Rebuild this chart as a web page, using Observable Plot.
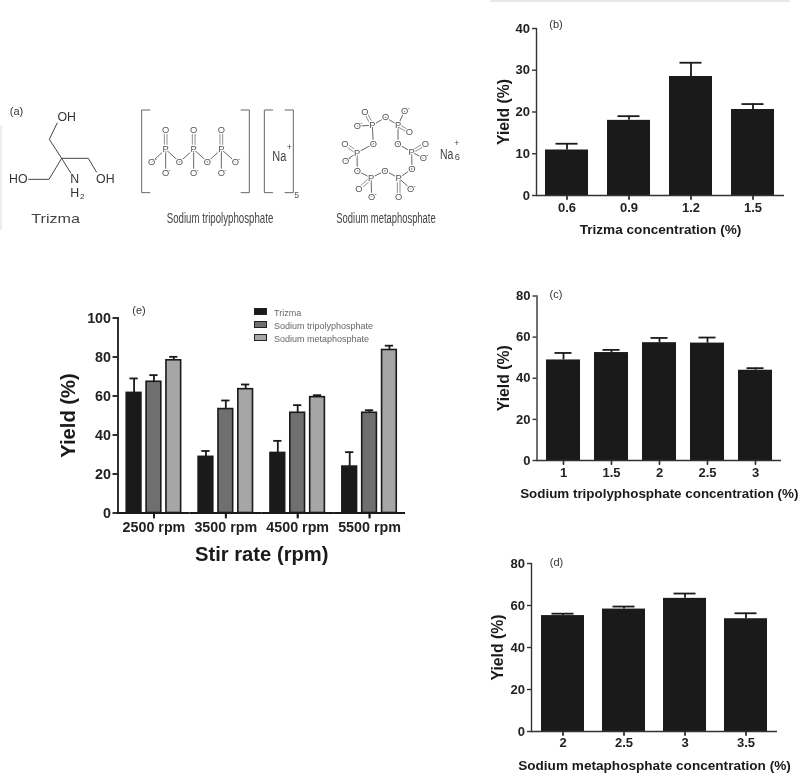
<!DOCTYPE html>
<html>
<head>
<meta charset="utf-8">
<script src="https://cdn.jsdelivr.net/npm/d3@7"></script>
<script src="https://cdn.jsdelivr.net/npm/@observablehq/plot@0.6"></script>
<style>
html,body{margin:0;padding:0;background:#fff;}
#page{position:relative;width:800px;height:777px;overflow:hidden;font-family:"Liberation Sans",Arial,sans-serif;background:#fff;filter:blur(0.35px);}
.panel{position:absolute;}
.panel svg{display:block;background:transparent;font-family:"Liberation Sans",Arial,sans-serif;overflow:visible;}
.tag{position:absolute;font-size:11px;color:#333;line-height:12px;transform:translate(-50%,-50%);}
.legend{position:absolute;left:254px;top:307px;font-size:9px;color:#666;}
.legend div{position:absolute;left:0;white-space:nowrap;height:12px;line-height:12px;}
.legend i{display:inline-block;width:11px;height:5px;border:1px solid #222;margin-right:7px;vertical-align:1px;}
.panel g[aria-label="y-axis tick label"],.panel g[aria-label="x-axis tick label"],.panel g[aria-label="fx-axis tick label"]{font-weight:bold;fill:#222;}
.panel g[aria-label="y-axis label"],.panel g[aria-label="x-axis label"],.panel g[aria-label="fx-axis label"]{font-weight:bold;fill:#1a1a1a;}
.small g[aria-label="y-axis tick label"],.small g[aria-label="x-axis tick label"]{font-size:13px;}
.small g[aria-label="y-axis label"]{font-size:15.8px;}
.small g[aria-label="x-axis label"]{font-size:13.6px;}
#c g[aria-label="x-axis label"]{font-size:13.4px;}
#e g[aria-label="y-axis tick label"],#e g[aria-label="fx-axis tick label"]{font-size:14.3px;}
#e g[aria-label="y-axis label"],#e g[aria-label="fx-axis label"]{font-size:20.2px;}
</style>
</head>
<body>
<div id="page"></div>
<script>
// Panel (b)
const trizmaConc = ["0.6","0.9","1.2","1.5"];
const trizmaYield = [10.9,18.0,28.5,20.6];
const trizmaTop = [12.4,19.0,31.8,21.9];
// Panel (c)
const tripolyConc = ["1","1.5","2","2.5","3"];
const tripolyYield = [48.9,52.5,57.3,57.1,43.9];
const tripolyTop = [52.3,53.8,59.6,59.8,44.9];
// Panel (d)
const metaConc = ["2","2.5","3","3.5"];
const metaYield = [55.2,58.3,63.4,53.7];
const metaTop = [56.1,59.5,65.7,56.3];
// Panel (e)
const stirRates = ["2500 rpm","3500 rpm","4500 rpm","5500 rpm"];
const agents = ["Trizma","Sodium tripolyphosphate","Sodium metaphosphate"];
const agentColors = ["#1a1a1a","#6f6f6f","#a6a6a6"];
const stirTrizma = [61.6,28.8,30.8,23.8];
const stirTrizmaTop = [69,31.8,37,31.2];
const stirTripoly = [67.3,53.3,51.4,51.4];
const stirTripolyTop = [70.7,57.7,55.3,52.7];
const stirMeta = [78.3,63.5,59.4,83.6];
const stirMetaTop = [80.1,65.9,60.4,85.8];

const page = document.getElementById("page");
const ink = "#1a1a1a";

function singlePanel(id, box, cats, vals, tops, xLabel, yMax, yTicks, capInset, xOff, yOff, tickPad){
  const data = cats.map((c,i)=>({c, v:vals[i], t:tops[i]}));
  const frameH = box.height - box.mt - box.mb;
  const div = document.createElement("div");
  div.className = "panel small"; div.id = id;
  div.style.left = box.left+"px"; div.style.top = box.top+"px";
  div.append(Plot.plot({
    width: box.width, height: box.height,
    marginLeft: box.ml, marginRight: box.mr, marginTop: box.mt, marginBottom: box.mb,
    x: {type:"band", domain: cats, paddingInner:0.3, paddingOuter:0.15},
    y: {domain:[0,yMax]},
    marks: [
      Plot.barY(data,{x:"c",y:"v",fill:ink}),
      Plot.ruleX(data,{x:"c",y1:"v",y2:"t",stroke:ink,strokeWidth:1.8}),
      Plot.tickY(data,{x:"c",y:"t",stroke:ink,strokeWidth:1.8,insetLeft:capInset,insetRight:capInset}),
      Plot.frame({anchor:"left",stroke:"#333",strokeWidth:1.4}),
      Plot.ruleY([0],{stroke:"#333",strokeWidth:1.4}),
      Plot.tickX(data,{x:"c",stroke:"#333",strokeWidth:1.4,insetTop:frameH,insetBottom:-4}),
      Plot.axisY({ticks:yTicks,tickSize:4,tickPadding:2.5,label:"Yield (%)",labelAnchor:"center",labelArrow:"none",labelOffset:yOff,stroke:"#333",strokeWidth:1.4}),
      Plot.axisX({tickSize:5,tickPadding:tickPad,label:xLabel,labelAnchor:"center",labelArrow:"none",labelOffset:xOff,stroke:"#333",strokeWidth:1.4})
    ]
  }));
  page.append(div);
}

singlePanel("b",{left:490,top:0,width:310,height:245,ml:46,mr:16,mt:28,mb:50},
  trizmaConc,trizmaYield,trizmaTop,"Trizma concentration (%)",40,[0,10,20,30,40],10.5,38,39,2);
singlePanel("c",{left:490,top:280,width:310,height:225,ml:46.5,mr:19,mt:15.5,mb:45},
  tripolyConc,tripolyYield,tripolyTop,"Sodium tripolyphosphate concentration (%)",80,[0,20,40,60,80],8.5,37,39,2.5);
singlePanel("d",{left:480,top:550,width:320,height:227,ml:51,mr:23,mt:13,mb:46},
  metaConc,metaYield,metaTop,"Sodium metaphosphate concentration (%)",80,[0,20,40,60,80],10.5,38,40,1.5);

// Panel (e): grouped bars
const stirRows = [];
stirRates.forEach((r,i)=>{
  stirRows.push({r,a:agents[0],v:stirTrizma[i],t:stirTrizmaTop[i]});
  stirRows.push({r,a:agents[1],v:stirTripoly[i],t:stirTripolyTop[i]});
  stirRows.push({r,a:agents[2],v:stirMeta[i],t:stirMetaTop[i]});
});
const eDiv = document.createElement("div");
eDiv.className = "panel"; eDiv.id = "e";
eDiv.style.left = "40px"; eDiv.style.top = "300px";
eDiv.append(Plot.plot({
  width: 375, height: 275,
  marginLeft: 77.5, marginRight: 10, marginTop: 17.5, marginBottom: 62.5,
  fx: {domain: stirRates, padding:0, round:false, label:"Stir rate (rpm)"},
  x: {domain: agents, paddingInner:0.26, paddingOuter:0.44, round:false, axis:null},
  y: {domain:[0,100]},
  color: {domain: agents, range: agentColors},
  marks: [
    Plot.barY(stirRows,{fx:"r",x:"a",y:"v",fill:"a",stroke:ink,strokeWidth:1.6}),
    Plot.ruleX(stirRows,{fx:"r",x:"a",y1:"v",y2:"t",stroke:ink,strokeWidth:1.8}),
    Plot.tickY(stirRows,{fx:"r",x:"a",y:"t",stroke:ink,strokeWidth:1.8,insetLeft:3.2,insetRight:3.2}),
    Plot.frame({anchor:"left",facet:"super",stroke:ink,strokeWidth:1.8}),
    Plot.ruleY([0],{stroke:ink,strokeWidth:1.8}),
    Plot.tickX(stirRows.filter(d=>d.a===agents[1]),{fx:"r",x:"a",stroke:ink,strokeWidth:1.8,insetTop:195,insetBottom:-5}),
    Plot.axisY({ticks:[0,20,40,60,80,100],tickSize:5,tickPadding:2,label:"Yield (%)",labelAnchor:"center",labelArrow:"none",labelOffset:57,stroke:ink,strokeWidth:1.8}),
    Plot.axisFx({anchor:"bottom",tickSize:6,tickPadding:3,label:"Stir rate (rpm)",labelAnchor:"center",labelArrow:"none",labelOffset:48,stroke:ink,strokeWidth:1.8})
  ]
}));
page.append(eDiv);

// Legend of panel (e)
const legend = document.createElement("div");
legend.className = "legend";
agents.forEach((a,i)=>{
  const row = document.createElement("div");
  row.style.top = [0,13,26][i]+"px";
  const sw = document.createElement("i");
  sw.style.background = agentColors[i];
  row.append(sw, a);
  legend.append(row);
});
page.append(legend);

// Panel letters
const letters = [["(b)",556,24],["(c)",556,294],["(d)",556.5,562],["(e)",139,310],["(a)",16.5,111]];
letters.forEach(([t,x,y])=>{
  const d = document.createElement("div");
  d.className="tag"; d.textContent=t; d.style.left=x+"px"; d.style.top=y+"px";
  page.append(d);
});

// Panel (a): chemical structure drawings (not data), in a 3x drawing space
const chem = d3.select(page).append("svg")
  .attr("width",470).attr("height",150).attr("viewBox","0 0 1410 450")
  .style("position","absolute").style("left","0px").style("top","90px")
  .style("font-family",'"Liberation Sans",Arial,sans-serif');
const bond = (a,b,dbl,col)=>{
  const dx=b[0]-a[0], dy=b[1]-a[1], L=Math.hypot(dx,dy), nx=-dy/L*4, ny=dx/L*4;
  (dbl?[-1,1]:[0]).forEach(s=>chem.append("line")
    .attr("x1",a[0]+s*nx).attr("y1",a[1]+s*ny).attr("x2",b[0]+s*nx).attr("y2",b[1]+s*ny)
    .attr("stroke",col||"#666").attr("stroke-width",dbl?2.2:3));
};
const label = (t,x,y,size,fill,anchor)=>chem.append("text").text(t).attr("x",x).attr("y",y)
  .attr("font-size",size).attr("fill",fill||"#555").attr("text-anchor",anchor||"middle").attr("dominant-baseline","central");
// Narrowed text: squeeze a label horizontally around its centre to a target length
const fit = (t,x,y,size,fill,len)=>{
  const s = label(t,0,0,size,fill);
  const k = len / s.node().getComputedTextLength();
  return s.attr("transform",`translate(${x},${y}) scale(${k},1)`);
};
const atom = (t,p,minus)=>{
  label(t,p[0],p[1],28).attr("stroke","#fff").attr("stroke-width",7).attr("paint-order","stroke");
  if(minus) label("-",p[0]+12,p[1]-11,20);
};
// Trizma
const C=[185,205];
[[C,[148,148]],[[148,148],[172,98]],[C,[147,268]],[[147,268],[85,268]],[C,[265,205]],[[265,205],[290,247]],[C,[213,250]]]
  .forEach(([a,b])=>bond(a,b,false,"#444"));
const tz=(t,x,y,s)=>label(t,x,y,s||37,"#333");
tz("OH",200,80); tz("HO",55,267); tz("OH",316,266); tz("N",224,267); tz("H",224,310); label("2",247,320,24,"#333");
fit("Trizma",167,385,38,"#444",146);
// Brackets
const bracket=(x,dir)=>{bond([x+dir*26,60],[x,60]);bond([x,60],[x,308]);bond([x,308],[x+dir*26,308]);};
bracket(425,1);bracket(748,-1);bracket(793,1);bracket(880,-1);
label("5",890,316,26);
fit("Na",838,198,44,"#444",42);
label("+",868,172,26,"#444");
// Tripolyphosphate
[497,581,664].forEach(x=>{bond([x,178],[x,125],true);bond([x,178],[x,245]);bond([x,178],[x-42,216]);bond([x,178],[x+42,216]);});
[497,581,664].forEach(x=>{atom("O",[x,120]);atom("P",[x,178]);atom("O",[x,248],true);});
atom("O",[455,216],true);atom("O",[538,216]);atom("O",[622,216]);atom("O",[706,216],true);
fit("Sodium tripolyphosphate",660,383,46,"#444",320);
// Metaphosphate
const ring=[[1117,106],[1157,82],[1194,106],[1194,162],[1235,186],[1236,237],[1196,264],[1155,242],[1113,264],[1072,242],[1071,188],[1120,162]];
ring.forEach((p,i)=>bond(p,ring[(i+1)%ring.length]));
const dblO=[[0,[1095,65]],[2,[1228,126]],[4,[1276,162]],[6,[1196,320]],[8,[1077,297]],[10,[1035,162]]];
const negO=[[0,[1072,108]],[2,[1214,62]],[4,[1270,205]],[6,[1232,297]],[8,[1115,320]],[10,[1037,212]]];
dblO.forEach(([i,p])=>bond(ring[i],p,true));
negO.forEach(([i,p])=>bond(ring[i],p));
ring.forEach((p,i)=>atom(i%2?"O":"P",p));
dblO.forEach(([,p])=>atom("O",p));
negO.forEach(([,p])=>atom("O",p,true));
fit("Na",1340,190,44,"#444",40);
label("6",1372,202,28,"#444");label("+",1370,160,26,"#444");
fit("Sodium metaphosphate",1158,383,46,"#444",298);

// Edge remnants of the source figure
[["#e8e8e8",490,0,300,2],["#eeeeee",0,125,1.5,105]].forEach(([c,x,y,w,h])=>{
  const d=document.createElement("div");
  d.style.cssText=`position:absolute;left:${x}px;top:${y}px;width:${w}px;height:${h}px;background:${c};`;
  page.append(d);
});
</script>
</body>
</html>
